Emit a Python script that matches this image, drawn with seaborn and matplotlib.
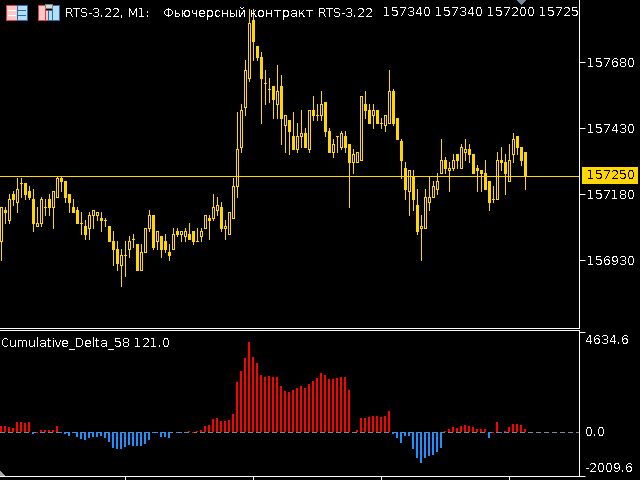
import pandas as pd
import matplotlib
matplotlib.use('Agg')
import matplotlib.pyplot as plt
import seaborn as sns
from matplotlib.patches import Rectangle, Polygon
from matplotlib.transforms import Affine2D

#---------------------------------------------------------
# prices
l_open=[157000,157120,157080,157180,157150,157220,157220,157190,157160,157060,157070,157130,157160,157130,157170,157240,157230,157180,157130,157120,
157070,157060,157050,157100,157100,157090,157080,157060,157000,156970,156910,156950,156970,157010,156990,156890,156960,157050,157100,157000,
157020,157000,156960,156970,157040,157030,157020,157030,157040,157000,157020,157050,157090,157090,157120,157130,157050,157030,157090,157210,
157360,157510,157620,157840,157740,157700,157600,157580,157590,157520,157590,157440,157460,157400,157350,157400,157410,157350,157500,157480,
157480,157530,157420,157340,157400,157360,157400,157370,157300,157300,157310,157520,157500,157480,157500,157450,157440,157450,157570,157470,
157380,157280,157190,157250,157140,157050,157050,157150,157170,157200,157260,157310,157270,157280,157330,157280,157340,157350,157330,157280,
157270,157260,157230,157160,157160,157310,157300,157230,157330,157400,157360,157340]
l_high=[157130,157130,157180,157190,157240,157240,157220,157210,157200,157130,157170,157160,157180,157190,157250,157250,157230,157180,157160,157130,
157110,157080,157110,157120,157110,157110,157090,157060,157040,157000,156970,157000,157020,157030,156990,156990,157050,157120,157100,157040,
157020,157030,156990,157050,157050,157040,157050,157070,157040,157050,157050,157100,157100,157180,157170,157150,157080,157110,157240,157490,
157520,157690,157880,157880,157740,157720,157650,157620,157590,157670,157630,157480,157460,157490,157450,157500,157430,157500,157550,157520,
157570,157530,157430,157390,157400,157420,157420,157370,157350,157340,157550,157570,157520,157520,157500,157470,157480,157650,157580,157470,
157390,157300,157270,157270,157200,157100,157200,157250,157230,157260,157390,157320,157300,157330,157330,157370,157390,157370,157330,157290,
157270,157310,157230,157210,157340,157360,157330,157370,157410,157400,157360,157340]
l_low=[156930,157070,157070,157140,157110,157170,157160,157160,157040,157060,157060,157100,157100,157050,157170,157190,157150,157110,157110,157070,
157030,157010,157010,157050,157080,157040,157060,157000,156910,156890,156830,156870,156940,156980,156890,156890,156960,157040,156970,156970,
156940,156960,156930,156970,157020,157000,157000,157010,156990,157000,157000,157050,157010,157080,157100,157040,157010,157030,157090,157170,
157340,157480,157610,157690,157690,157450,157520,157530,157470,157470,157370,157340,157330,157350,157340,157360,157360,157340,157460,157460,
157460,157400,157340,157320,157340,157350,157340,157130,157260,157300,157310,157470,157450,157430,157450,157430,157420,157450,157440,157390,
157240,157160,157100,157120,157030,156930,157050,157120,157170,157180,157260,157260,157190,157270,157280,157280,157310,157300,157260,157190,
157190,157200,157120,157150,157160,157270,157180,157230,157300,157330,157290,157200]
l_close=[157130,157110,157160,157160,157200,157220,157180,157170,157070,157070,157160,157130,157130,157190,157240,157230,157170,157150,157110,157070,
157070,157030,157100,157120,157110,157080,157080,157000,156970,156920,156950,156950,157000,157010,156890,156960,157050,157100,156980,157040,
156970,156970,156950,157030,157030,157040,157040,157010,157000,157000,157040,157100,157080,157130,157140,157050,157060,157110,157210,157350,
157500,157650,157830,157760,157700,157620,157600,157580,157540,157570,157470,157480,157420,157350,157400,157410,157360,157500,157480,157480,
157520,157420,157340,157370,157400,157410,157360,157300,157330,157340,157550,157500,157450,157500,157450,157450,157480,157570,157450,157390,
157310,157200,157270,157160,157040,157060,157170,157170,157210,157230,157310,157280,157280,157310,157310,157360,157350,157330,157260,157270,
157260,157200,157150,157160,157310,157300,157260,157310,157390,157360,157310,157250]
l_delta=[290,290,250,200,480,480,430,480,-80,-30,110,110,110,110,290,-30,-80,-170,-50,-230,
-310,-350,-260,-220,-220,-200,-260,-450,-720,-770,-770,-680,-590,-630,-630,-630,-540,-350,-50,-50,
-220,-220,-260,-20,-30,-30,-20,60,-50,60,110,290,340,620,660,520,520,570,850,2330,
2830,3430,4130,3480,3200,2650,2560,2600,2560,2560,2140,1910,1860,1960,2050,2140,2050,2230,2370,2510,
2700,2650,2460,2460,2510,2560,2560,1960,0,110,660,660,710,750,750,710,750,990,-80,-260,
-490,-170,-170,-770,-1190,-1420,-1190,-1090,-1050,-910,-720,60,150,250,200,290,340,290,250,150,
150,150,-260,-50,480,-30,60,250,390,390,340,121]
l_red_below=[9,48,123]
l_pticks=[157680,157430,157180,156930]
last_price=157250
dtop=4634.6
dbot=-2009.6
l_head=['157340','157340','157200','157250']
f_out='out.png'

gold='#FFD700'
red='#FF0000'
blue='#1E90FF'
slate='#778899'
px=0.72  #one pixel line
fnt=8.64

#--------------------------------------------------------
df=pd.DataFrame({'open':l_open, 'high':l_high, 'low':l_low, 'close':l_close, 'delta':l_delta})
df['i']=df.index
df['bar']=df.index
df['dir']=['up' if (v>=0 or i in l_red_below) else 'down' for i, v in enumerate(l_delta)]
df_wick=df.melt(id_vars=['bar', 'i'], value_vars=['low', 'high'], value_name='price')

sns.set_theme(style='dark', rc={'axes.facecolor':'black', 'figure.facecolor':'black', 'axes.edgecolor':'white',
	'lines.antialiased':False, 'patch.antialiased':False, 'text.antialiased':False, 'lines.solid_capstyle':'butt',
	'text.hinting':'native', 'text.hinting_factor':1})
plt.rcParams['font.family']=['DejaVu Sans']

fig=plt.figure(figsize=(6.4,4.8), dpi=100)
ax=fig.add_axes([0, (480-327.7)/480, 579.2/640, 327.7/480])
ax2=fig.add_axes([0, (480-475.7)/480, 579.2/640, (475.7-329.7)/480])
tf=Affine2D().scale(1,-1).translate(0,480)

#candles
sns.lineplot(data=df_wick, x='i', y='price', units='bar', estimator=None, color=gold, lw=px, ax=ax, zorder=2)
d_up=df[df['close']>=df['open']]
d_dn=df[df['close']<df['open']]
ax.bar(d_up['i'], d_up['close']-d_up['open'], bottom=d_up['open'], width=0.5, facecolor='black', edgecolor=gold, lw=px, zorder=3)
ax.bar(d_dn['i'], d_dn['open']-d_dn['close'], bottom=d_dn['close'], width=0.5, facecolor=gold, edgecolor=gold, lw=px, zorder=3)
ax.axhline(last_price, color=gold, lw=px, zorder=4)
ax.set_xlim(-0.3, 144.5)
ax.set_ylim(156673, 157916)
ax.set_xticks([])
ax.set_xlabel('')
ax.set_ylabel('')
ax.yaxis.tick_right()
ax.set_yticks(l_pticks, [str(v) for v in l_pticks])
ax.tick_params(axis='y', length=4, width=px, color='white', labelcolor='white', labelsize=fnt, pad=1.5, right=True)
for s in ['top', 'left']:
	ax.spines[s].set_visible(False)
for s in ['right', 'bottom']:
	ax.spines[s].set_linewidth(px)

#delta bars
sns.barplot(data=df, x='i', y='delta', hue='dir', palette={'up':red, 'down':blue}, dodge=False, native_scale=True,
	width=0.5, saturation=1, errorbar=None, legend=False, linewidth=0, ax=ax2, zorder=3)
ax2.axhline(0, color=slate, lw=px, ls=(0,(5,3)), zorder=2)
ax2.set_xlim(-0.3, 144.5)
ax2.set_ylim(-2016, 4720)
ax2.set_xticks([31,63,95,127], ['']*4)
ax2.set_xlabel('')
ax2.set_ylabel('')
ax2.yaxis.tick_right()
ax2.set_yticks([dtop, dbot], ['', ''])
ax2.tick_params(axis='both', length=4, width=px, color='white', bottom=True, right=True)
ax2.spines['left'].set_visible(False)
for s in ['top', 'right', 'bottom']:
	ax2.spines[s].set_linewidth(px)

#texts
def txt(x, y, s, color='white', clip=False):
	t=fig.text(x, y, s, color=color, fontsize=fnt, va='center', ha='left', transform=tf)
	if clip:
		t.set_clip_box(ax.bbox)
		t.set_clip_on(True)
	return t

txt(65, 13, 'RTS-3.22, M1:')
txt(163, 13, 'Фьючерсный контракт RTS-3.22')
for x, s in zip([383, 435, 487, 539], l_head):
	txt(x, 13, s, clip=True)
txt(1, 343, 'Cumulative_Delta_58 121.0')
txt(584.5, 341, f'{dtop:.1f}')
txt(584.5, 432.5, '0.0')
txt(584.5, 468.7, f'{dbot:.1f}')
fig.add_artist(Rectangle((582,167), 56, 17, facecolor=gold, edgecolor='none', transform=tf))
txt(587, 175.5, str(last_price), color='black')

#little icons and markers of the terminal
def box(x, y, w, h, fc, ec='none'):
	fig.add_artist(Rectangle((x,y), w, h, facecolor=fc, edgecolor=ec, lw=px, transform=tf))

box(6, 5, 11, 15, '#FFC8C8', '#D84040')
box(17, 5, 10, 15, '#B8DCF5', '#1F6FB0')
for y in [10, 15]:
	box(8, y, 8, 1, 'white')
	box(18, y, 8, 1, '#1F6FB0')
box(38, 5, 7, 15, '#FFC8C8', '#D84040')
box(45, 10, 3, 10, '#FFC8C8', '#D84040')
box(52, 5, 7, 15, '#B8DCF5', '#1F6FB0')
box(48, 10, 4, 10, '#B8DCF5', '#1F6FB0')
box(45, 4, 7, 4, '#D8D8D8', '#808080')
fig.add_artist(Polygon([(0,471), (0,476), (5,476)], closed=True, facecolor='#A0A8B0', edgecolor='none', transform=tf))
fig.add_artist(Polygon([(517,0), (526,0), (521.5,4.5)], closed=True, facecolor=slate, edgecolor='none', transform=tf))

plt.savefig(f_out, dpi=100)
plt.close()
